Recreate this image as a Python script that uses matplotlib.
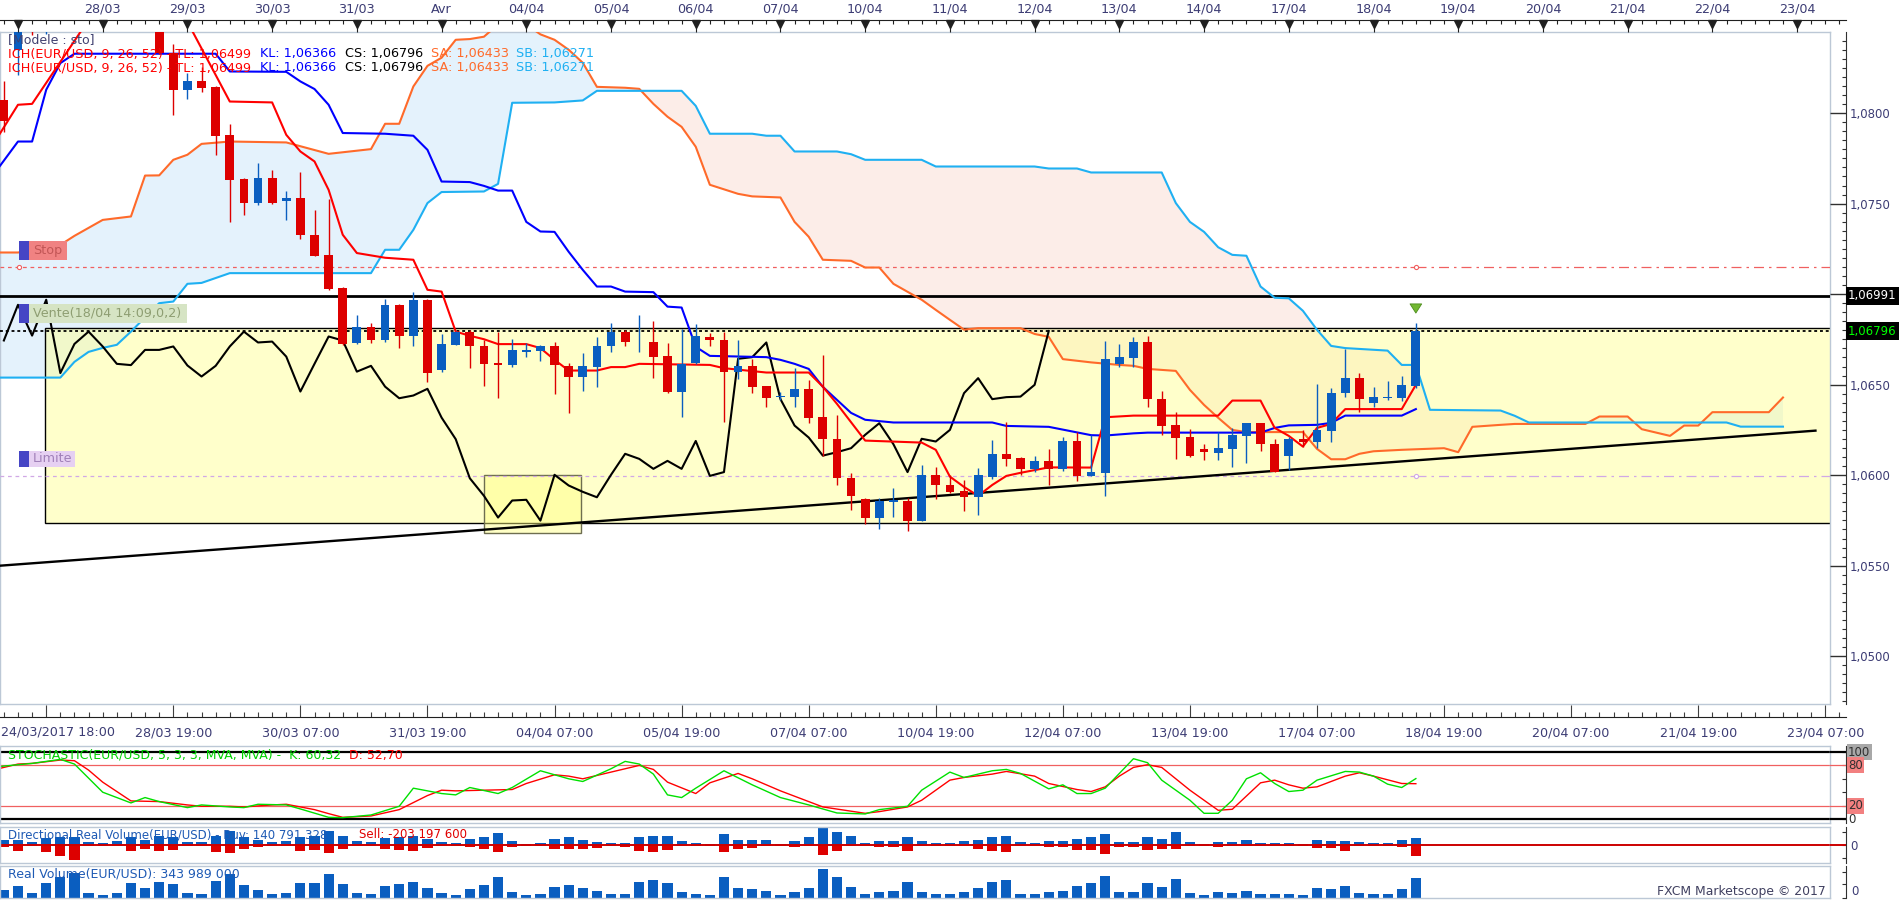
import numpy as np
import matplotlib
matplotlib.use("Agg")
import matplotlib.pyplot as plt
import matplotlib.transforms as mtransforms
from matplotlib.patches import Rectangle
from matplotlib.ticker import MultipleLocator, FuncFormatter

plt.rcParams['font.family'] = ['DejaVu Sans']

# EUR/USD 4h candles. bar 0 = first bar of 28/03 (opens 27/03 23:00), 6 bars per day
first_bar = -7
opens = [1.08070, 1.08350, 1.08700, 1.08620, 1.08760, 1.08660, 1.08750, 1.08680, 1.08610, 1.08690,
         1.08610, 1.08570, 1.08331, 1.08125, 1.08175, 1.08144, 1.07880, 1.07637, 1.07506, 1.07644,
         1.07512, 1.07530, 1.07328, 1.07217, 1.07033, 1.06729, 1.06821, 1.06748, 1.06941, 1.06771,
         1.06969, 1.06582, 1.06720, 1.06793, 1.06714, 1.06619, 1.06606, 1.06683, 1.06688, 1.06711,
         1.06604, 1.06545, 1.06600, 1.06716, 1.06793, 1.06733, 1.06738, 1.06659, 1.06462, 1.06622,
         1.06766, 1.06748, 1.06572, 1.06604, 1.06493, 1.06434, 1.06434, 1.06477, 1.06324, 1.06199,
         1.05983, 1.05867, 1.05766, 1.05851, 1.05860, 1.05749, 1.05999, 1.05946, 1.05915, 1.05878,
         1.05992, 1.06118, 1.06097, 1.06035, 1.06079, 1.06035, 1.06189, 1.05996, 1.06014, 1.06615,
         1.06650, 1.06733, 1.06422, 1.06278, 1.06213, 1.06145, 1.06122, 1.06145, 1.06219, 1.06287,
         1.06173, 1.06108, 1.06199, 1.06186, 1.06246, 1.06453, 1.06536, 1.06398, 1.06427, 1.06429,
         1.06493]
highs = [1.08175, 1.08600, 1.08740, 1.08730, 1.08790, 1.08780, 1.08800, 1.08720, 1.08710, 1.08720,
         1.08640, 1.08600, 1.08383, 1.08221, 1.08257, 1.08150, 1.07941, 1.07640, 1.07724, 1.07687,
         1.07571, 1.07674, 1.07466, 1.07527, 1.07037, 1.06882, 1.06843, 1.06974, 1.06946, 1.07014,
         1.06972, 1.06781, 1.06796, 1.06803, 1.06748, 1.06793, 1.06751, 1.06729, 1.06720, 1.06738,
         1.06619, 1.06674, 1.06762, 1.06840, 1.06803, 1.06886, 1.06853, 1.06729, 1.06807, 1.06836,
         1.06788, 1.06793, 1.06748, 1.06641, 1.06495, 1.06462, 1.06591, 1.06527, 1.06665, 1.06333,
         1.06014, 1.05873, 1.05873, 1.05928, 1.05873, 1.06057, 1.06047, 1.06002, 1.05974, 1.06039,
         1.06195, 1.06293, 1.06103, 1.06107, 1.06145, 1.06213, 1.06237, 1.06223, 1.06742, 1.06725,
         1.06766, 1.06770, 1.06466, 1.06351, 1.06256, 1.06173, 1.06237, 1.06260, 1.06290, 1.06290,
         1.06199, 1.06210, 1.06250, 1.06504, 1.06481, 1.06698, 1.06564, 1.06486, 1.06521, 1.06549,
         1.06840]
lows = [1.07898, 1.08212, 1.08430, 1.08435, 1.08620, 1.08600, 1.08630, 1.08580, 1.08570, 1.08550,
        1.08510, 1.08325, 1.07987, 1.08079, 1.08119, 1.07770, 1.07396, 1.07438, 1.07493, 1.07499,
        1.07407, 1.07306, 1.07208, 1.07024, 1.06720, 1.06725, 1.06729, 1.06733, 1.06702, 1.06714,
        1.06512, 1.06572, 1.06718, 1.06591, 1.06493, 1.06425, 1.06597, 1.06655, 1.06633, 1.06448,
        1.06346, 1.06467, 1.06486, 1.06683, 1.06716, 1.06680, 1.06539, 1.06453, 1.06324, 1.06615,
        1.06711, 1.06291, 1.06530, 1.06456, 1.06379, 1.06416, 1.06379, 1.06287, 1.06107, 1.05946,
        1.05808, 1.05729, 1.05702, 1.05771, 1.05694, 1.05745, 1.05869, 1.05901, 1.05804, 1.05781,
        1.05978, 1.06053, 1.06002, 1.06020, 1.05946, 1.06024, 1.05970, 1.05994, 1.05886, 1.06597,
        1.06597, 1.06376, 1.06223, 1.06090, 1.06099, 1.06085, 1.06085, 1.06044, 1.06070, 1.06136,
        1.06015, 1.06029, 1.06158, 1.06149, 1.06186, 1.06431, 1.06351, 1.06376, 1.06413, 1.06412,
        1.06481]
closes = [1.07959, 1.08560, 1.08650, 1.08700, 1.08680, 1.08740, 1.08670, 1.08620, 1.08680, 1.08600,
          1.08560, 1.08331, 1.08125, 1.08175, 1.08141, 1.07875, 1.07632, 1.07506, 1.07644, 1.07506,
          1.07530, 1.07324, 1.07212, 1.07029, 1.06725, 1.06821, 1.06744, 1.06941, 1.06771, 1.06969,
          1.06564, 1.06725, 1.06793, 1.06711, 1.06615, 1.06608, 1.06692, 1.06692, 1.06711, 1.06606,
          1.06545, 1.06604, 1.06711, 1.06793, 1.06733, 1.06738, 1.06655, 1.06462, 1.06615, 1.06766,
          1.06744, 1.06572, 1.06604, 1.06489, 1.06425, 1.06440, 1.06477, 1.06318, 1.06199, 1.05983,
          1.05886, 1.05766, 1.05860, 1.05864, 1.05749, 1.06002, 1.05943, 1.05908, 1.05878, 1.06002,
          1.06118, 1.06090, 1.06035, 1.06079, 1.06035, 1.06189, 1.05996, 1.06017, 1.06643, 1.06652,
          1.06733, 1.06420, 1.06274, 1.06208, 1.06108, 1.06127, 1.06149, 1.06223, 1.06287, 1.06171,
          1.06017, 1.06201, 1.06186, 1.06250, 1.06453, 1.06536, 1.06420, 1.06431, 1.06434, 1.06499,
          1.06796]

# Ichimoku lines, read as (bar, price) vertices
tenkan_bars = [-8, -6, -5, -1, 6, 9, 12, 13, 14, 15, 16, 17, 18, 20, 22, 23, 24, 25, 26, 27,
               28, 30, 31, 32, 33, 35, 36, 37, 38, 43, 44, 47, 50, 51, 52, 54, 58, 59, 60, 61,
               62, 63, 64, 65, 67, 70, 71, 73, 79, 80, 82, 83, 84, 85, 86, 87, 88, 92, 93]
tenkan = [1.07797, 1.08046, 1.08051, 1.08515, 1.08504, 1.08064, 1.08059, 1.07880, 1.07788, 1.07733,
          1.07576, 1.07328, 1.07227, 1.07201, 1.07190, 1.07024, 1.07014, 1.06793, 1.06770, 1.06751,
          1.06724, 1.06724, 1.06702, 1.06637, 1.06578, 1.06578, 1.06597, 1.06597, 1.06615, 1.06609,
          1.06591, 1.06567, 1.06567, 1.06489, 1.06394, 1.06191, 1.06180, 1.06140, 1.05992, 1.05935,
          1.05886, 1.05946, 1.05996, 1.06013, 1.06043, 1.06042, 1.06320, 1.06329, 1.06329, 1.06412,
          1.06412, 1.06261, 1.06217, 1.06158, 1.06261, 1.06283, 1.06365, 1.06365, 1.06499]
kijun_bars = [-8, -6, -5, -4, -3, -2, 8, 9, 13, 14, 15, 16, 17, 20, 22, 23, 24, 26, 27, 28,
              29, 30, 31, 32, 33, 34, 35, 36, 37, 39, 40, 41, 42, 43, 47, 48, 49, 50, 51, 52,
              53, 54, 56, 63, 64, 67, 70, 71, 72, 73, 74, 82, 83, 84, 86, 87, 88, 92, 93]
kijun = [1.07632, 1.07843, 1.07843, 1.08129, 1.08276, 1.08328, 1.08328, 1.08230, 1.08228, 1.08175,
         1.08133, 1.08046, 1.07890, 1.07886, 1.07875, 1.07797, 1.07622, 1.07619, 1.07598, 1.07572,
         1.07572, 1.07399, 1.07346, 1.07344, 1.07234, 1.07134, 1.07042, 1.07042, 1.07014, 1.07011,
         1.06931, 1.06926, 1.06709, 1.06659, 1.06652, 1.06637, 1.06615, 1.06587, 1.06488, 1.06416,
         1.06344, 1.06306, 1.06291, 1.06291, 1.06272, 1.06267, 1.06221, 1.06219, 1.06225, 1.06231,
         1.06235, 1.06235, 1.06261, 1.06275, 1.06278, 1.06289, 1.06329, 1.06329, 1.06365]
sa_bars = [-8, -6, -4, -3, -2, -1, 0, 2, 3, 4, 5, 6, 7, 9, 13, 16, 19, 20, 21, 22,
           23, 24, 25, 26, 27, 28, 29, 30, 31, 32, 33, 34, 35, 37, 38, 39, 40, 41, 42, 43,
           45, 46, 48, 49, 50, 51, 53, 54, 55, 56, 57, 58, 59, 60, 61, 62, 65, 66, 67, 68,
           70, 72, 73, 74, 76, 77, 78, 79, 80, 81, 85, 86, 87, 88, 89, 90, 92, 95, 96, 97,
           99, 100, 105, 106, 108, 109, 111, 112, 113, 114, 118, 119]
senkou_a = [1.07230, 1.07230, 1.07256, 1.07272, 1.07322, 1.07366, 1.07410, 1.07429, 1.07655, 1.07656,
            1.07742, 1.07770, 1.07830, 1.07843, 1.07838, 1.07775, 1.07801, 1.07941, 1.07941, 1.08147,
            1.08261, 1.08306, 1.08405, 1.08409, 1.08422, 1.08490, 1.08500, 1.08490, 1.08435, 1.08405,
            1.08350, 1.08278, 1.08145, 1.08140, 1.08134, 1.08051, 1.07980, 1.07924, 1.07814, 1.07604,
            1.07554, 1.07540, 1.07534, 1.07399, 1.07317, 1.07190, 1.07184, 1.07147, 1.07147, 1.07057,
            1.07013, 1.06969, 1.06913, 1.06858, 1.06804, 1.06812, 1.06812, 1.06780, 1.06764, 1.06641,
            1.06623, 1.06609, 1.06604, 1.06587, 1.06576, 1.06471, 1.06388, 1.06317, 1.06250, 1.06238,
            1.06238, 1.06145, 1.06088, 1.06088, 1.06118, 1.06132, 1.06140, 1.06149, 1.06127, 1.06267,
            1.06278, 1.06283, 1.06283, 1.06324, 1.06324, 1.06254, 1.06217, 1.06274, 1.06274, 1.06348,
            1.06348, 1.06429]
sb_bars = [-8, -3, -2, -1, 0, 1, 2, 4, 5, 6, 7, 9, 19, 20, 21, 22, 23, 24, 27, 28,
           29, 32, 34, 35, 41, 42, 43, 46, 47, 48, 49, 52, 53, 54, 58, 59, 66, 67, 69, 70,
           75, 76, 77, 78, 79, 80, 81, 82, 83, 84, 85, 86, 87, 88, 91, 92, 93, 94, 99, 100,
           101, 115, 116, 119]
senkou_b = [1.06539, 1.06539, 1.06626, 1.06681, 1.06703, 1.06720, 1.06793, 1.06950, 1.06959, 1.07057,
            1.07062, 1.07116, 1.07116, 1.07245, 1.07245, 1.07355, 1.07503, 1.07564, 1.07567, 1.07609,
            1.08057, 1.08059, 1.08070, 1.08123, 1.08123, 1.08040, 1.07886, 1.07886, 1.07875, 1.07875,
            1.07788, 1.07788, 1.07773, 1.07742, 1.07742, 1.07705, 1.07705, 1.07694, 1.07694, 1.07672,
            1.07672, 1.07503, 1.07399, 1.07344, 1.07259, 1.07217, 1.07212, 1.07042, 1.06980, 1.06977,
            1.06908, 1.06803, 1.06714, 1.06702, 1.06688, 1.06609, 1.06609, 1.06361, 1.06357, 1.06328,
            1.06291, 1.06291, 1.06268, 1.06268]
chikou_shift = 26

# order levels and drawn objects
resistance = 1.06991
last_price = 1.06796
stop_level = 1.07152
limit_level = 1.05994
zone_top, zone_bottom, zone_start = 1.06811, 1.05735, -4.07
trend_bars, trend_vals = [-7.27, 121.3], [1.05500, 1.06246]
focus_bars, focus_vals = [27.0, 33.9], [1.05680, 1.06002]

# stochastic (5,3,3)
k_bars = [-8, -7, -5, -3, -2, 0, 2, 3, 4, 6, 7, 9, 10, 11, 13, 14, 16, 17, 19, 21,
          22, 24, 25, 26, 28, 29, 31, 33, 34, 36, 37, 38, 39, 40, 41, 42, 44, 46, 48, 50,
          52, 54, 55, 57, 58, 60, 61, 63, 64, 65, 67, 68, 69, 70, 71, 73, 74, 75, 77, 78,
          79, 80, 81, 82, 83, 84, 85, 86, 88, 89, 90, 91, 92, 93]
stoch_k = [76, 79, 83, 89, 82, 40, 24, 32, 26, 17, 21, 18, 17, 22, 21, 15, 2.5, 2, 6, 19,
           46, 38, 36, 47, 38, 47, 72, 60, 56, 75, 86, 82, 67, 36, 32, 46, 72, 51, 32, 21,
           9, 7.5, 14, 19, 43, 70, 62, 72, 74, 68, 45, 51, 38, 38, 46, 90, 84, 58, 28, 8.5,
           8.5, 28, 60, 69, 53, 41, 43, 58, 71, 70, 64, 52, 47, 60.32]
d_bars = [-8, -7, -6, -5, -3, -2, -1, 0, 2, 4, 6, 7, 9, 10, 12, 13, 15, 16, 17, 19,
          21, 23, 24, 25, 27, 29, 30, 32, 33, 34, 36, 38, 39, 40, 42, 43, 45, 46, 48, 51,
          54, 55, 57, 58, 60, 61, 63, 64, 66, 67, 69, 70, 71, 72, 73, 74, 75, 77, 79, 80,
          82, 83, 84, 85, 86, 88, 89, 90, 92, 93]
stoch_d = [72, 77, 82, 83, 88, 87, 73, 55, 27, 26, 21, 19, 19, 18, 21, 22, 14, 8, 2.5, 4.5,
           14, 35, 43, 42, 43, 44, 53, 66, 64, 60, 70, 80, 74, 55, 38, 54, 68, 60, 42, 18,
           8.5, 11, 18, 28, 58, 62, 67, 71, 64, 53, 44, 41, 48, 64, 77, 81, 77, 43, 13, 14.5,
           54, 58, 51, 46, 48, 64, 69, 64, 53, 52.70]

# directional real volume, millions (bars -7 .. 93)
buy_vol = [95, 95, 59, 130, 150, 150, 59, 46, 72, 150,
           98, 169, 150, 59, 59, 169, 267, 150, 98, 59,
           72, 150, 169, 267, 169, 72, 59, 130, 150, 169,
           111, 59, 46, 111, 150, 228, 72, 26, 39, 124,
           150, 104, 59, 39, 39, 150, 169, 169, 72, 39,
           26, 221, 104, 104, 104, 26, 72, 150, 319, 247,
           169, 39, 72, 85, 156, 72, 39, 46, 72, 104,
           150, 169, 52, 39, 72, 85, 124, 150, 221, 59,
           59, 150, 124, 241, 59, 26, 59, 59, 104, 39,
           39, 39, 26, 104, 85, 85, 59, 39, 39, 104,
           140.79]
sell_vol = [39, 117, 20, 137, 215, 293, 20, 13, 13, 117,
            78, 117, 98, 20, 13, 137, 156, 78, 39, 13,
            13, 117, 98, 156, 78, 20, 13, 78, 98, 117,
            59, 20, 13, 39, 78, 137, 39, 26, 26, 72,
            78, 78, 59, 26, 39, 124, 143, 91, 26, 26,
            26, 143, 78, 59, 26, 26, 39, 26, 189, 124,
            26, 26, 39, 39, 124, 26, 26, 26, 26, 72,
            124, 143, 26, 26, 39, 39, 91, 104, 169, 46,
            39, 104, 72, 85, 26, 26, 39, 26, 26, 26,
            26, 26, 26, 65, 65, 124, 26, 26, 26, 46,
            203.20]

day_bars = list(range(-6, 121, 6))
day_labels = ['', '28/03', '29/03', '30/03', '31/03', 'Avr', '04/04', '05/04', '06/04', '07/04',
              '10/04', '11/04', '12/04', '13/04', '14/04', '17/04', '18/04', '19/04', '20/04',
              '21/04', '22/04', '23/04']
time_bars = list(range(-4, 123, 9))
time_labels = ['', '28/03 19:00', '30/03 07:00', '31/03 19:00', '04/04 07:00', '05/04 19:00',
               '07/04 07:00', '10/04 19:00', '12/04 07:00', '13/04 19:00', '17/04 07:00',
               '18/04 19:00', '20/04 07:00', '21/04 19:00', '23/04 07:00']

# ---- styles ----
RED = '#DD0000'
BLUE = '#0A5EC0'
FRAME = '#BCC8D6'
AXTXT = '#3C3C74'
W, H = 1903, 900
X0, DX = 102.7, 14.12          # pixel of bar 0, pixels per bar

fig = plt.figure(figsize=(W / 100, H / 100), dpi=100)


def frame(x0, y0, x1, y1):
    return [x0 / W, 1 - y1 / H, (x1 - x0) / W, (y1 - y0) / H]


def bar_range(x0, x1):
    return ((x0 - X0) / DX, (x1 - X0) / DX)


def panel(y0, y1, ylim):
    a = fig.add_axes(frame(0, y0, 1830, y1))
    a.set_xlim(*bar_range(0, 1830))
    a.set_ylim(*ylim)
    for s in a.spines.values():
        s.set_color(FRAME)
        s.set_linewidth(1)
    a.set_xticks([])
    a.set_yticks([])
    return a


def side(y0, y1, ylim):
    a = fig.add_axes(frame(1830, y0, 1846, y1))
    a.set_xlim(0, 1)
    a.set_ylim(*ylim)
    a.patch.set_visible(False)
    for s in ('left', 'top', 'bottom'):
        a.spines[s].set_visible(False)
    a.spines['right'].set_color('#303030')
    a.set_xticks([])
    a.yaxis.tick_right()
    a.tick_params(axis='y', which='both', direction='in', color='#303030',
                  labelcolor=AXTXT, labelsize=8.5, pad=3)
    return a


bars = np.arange(first_bar, first_bar + len(closes))
o, hi, lo, c = (np.array(v) for v in (opens, highs, lows, closes))

# ---- main chart ----
ylim_main = (1.04736, 1.08448)
ax = panel(32, 704, ylim_main)

sa_b, sb_b = np.array(sa_bars, float), np.array(sb_bars, float)
grid = np.union1d(sa_b, sb_b)
sa_g = np.interp(grid, sa_b, senkou_a)
sb_g = np.interp(grid, sb_b, senkou_b)
ax.fill_between(grid, sa_g, sb_g, where=sa_g >= sb_g, interpolate=True, color='#E4F2FC', lw=0, zorder=1)
ax.fill_between(grid, sa_g, sb_g, where=sa_g < sb_g, interpolate=True, color='#FCEDE8', lw=0, zorder=1)

ax.add_patch(Rectangle((zone_start, zone_bottom), 140, zone_top - zone_bottom,
                       fc=(1, 1, 0.6, 0.5), ec='black', lw=1.0, zorder=2))
ax.add_patch(Rectangle((focus_bars[0], focus_vals[0]), focus_bars[1] - focus_bars[0],
                       focus_vals[1] - focus_vals[0], fc=(1, 1, 0.5, 0.45), ec='#6E6E50', lw=1.0, zorder=2.5))

ax.axhline(resistance, color='black', lw=2.0, zorder=3)
ax.axhline(last_price, color='black', lw=1.3, ls=(0, (1.6, 1.6)), zorder=3)
xl = ax.get_xlim()
ax.plot([xl[0], 93], [stop_level] * 2, color='#F06060', lw=0.9, ls=(0, (3, 3)), zorder=3)
ax.plot([93, xl[1]], [stop_level] * 2, color='#F06060', lw=0.9, ls=(0, (8, 4, 2, 4)), zorder=3)
ax.plot([xl[0], 93], [limit_level] * 2, color='#D0A8E6', lw=0.9, ls=(0, (3, 3)), zorder=3)
ax.plot([93, xl[1]], [limit_level] * 2, color='#D0A8E6', lw=0.9, ls=(0, (8, 4, 2, 4)), zorder=3)
ax.plot([-5.93, 93], [stop_level] * 2, 'o', ms=3, mfc='white', mec='#F06060', mew=0.8, zorder=3)
ax.plot([93], [limit_level], 'o', ms=3, mfc='white', mec='#D0A8E6', mew=0.8, zorder=3)
ax.plot(trend_bars, trend_vals, color='black', lw=1.7, zorder=3)

ax.plot(sa_bars, senkou_a, color='#FF6A2A', lw=1.5, zorder=3.5)
ax.plot(sb_bars, senkou_b, color='#1FB0F2', lw=1.5, zorder=3.5)
ax.plot(bars[chikou_shift:] - chikou_shift, c[chikou_shift:], color='black', lw=1.5, zorder=3.5)
ax.plot(kijun_bars, kijun, color='#0000FF', lw=1.5, zorder=3.6)
ax.plot(tenkan_bars, tenkan, color='#FF0000', lw=1.5, zorder=3.7)

up = c >= o
cols = np.where(up, BLUE, RED)
ax.vlines(bars, lo, hi, colors=cols, lw=1.0, zorder=4)
ax.bar(bars, np.maximum(np.abs(c - o), 0.00003), bottom=np.minimum(o, c), width=0.62,
       color=cols, lw=0, zorder=5)

ax.annotate('', xy=(bars[-1], hi[-1] + 0.0004), xytext=(bars[-1], hi[-1] + 0.0012),
            arrowprops=dict(arrowstyle='simple,head_length=0.55,head_width=0.7,tail_width=0.35',
                            fc='#72B832', ec='#4C8C1C', lw=0.6, mutation_scale=12), zorder=8)

# price axis (the 1,0700 label sits under the resistance tag)
axr = side(32, 704, ylim_main)
axr.yaxis.set_major_locator(MultipleLocator(0.005))
axr.yaxis.set_minor_locator(MultipleLocator(0.0005))
axr.yaxis.set_major_formatter(FuncFormatter(
    lambda v, _: '' if abs(v - resistance) < 0.0004 else f"{v:.4f}".replace('.', ',')))
axr.tick_params(axis='y', which='major', length=11.5, width=1)
axr.tick_params(axis='y', which='minor', length=3, width=0.8)
tr = mtransforms.blended_transform_factory(axr.transAxes, axr.transData)
axr.text(1.12, resistance, f"{resistance:.5f}".replace('.', ','), transform=tr, color='white',
         fontsize=8.5, va='center', ha='left', clip_on=False, zorder=10,
         bbox=dict(boxstyle='square,pad=0.2', fc='black', ec='none'))
axr.text(1.12, last_price, f"{last_price:.5f}".replace('.', ','), transform=tr, color='#00FF00',
         fontsize=8.5, va='center', ha='left', clip_on=False, zorder=10,
         bbox=dict(boxstyle='square,pad=0.2', fc='black', ec='none'))

# top date strip
axt = fig.add_axes(frame(0, 20, 1846, 32))
axt.set_xlim(*bar_range(0, 1846))
axt.set_ylim(0, 1)
axt.patch.set_visible(False)
for s in ('left', 'right', 'bottom'):
    axt.spines[s].set_visible(False)
axt.spines['top'].set_color('#202020')
axt.xaxis.tick_top()
axt.set_xticks(day_bars)
axt.set_xticklabels(day_labels)
axt.set_xticks(np.arange(-7, 124), minor=True)
axt.tick_params(axis='x', which='major', direction='in', length=8.6, width=0.8, color='#202020',
                labelsize=9.2, labelcolor=AXTXT, pad=3)
axt.tick_params(axis='x', which='minor', direction='in', length=3, width=0.8, color='#202020')
axt.set_yticks([])
axt.plot(day_bars, [0.7] * len(day_bars), 'v', ms=6, color='#202020', clip_on=False)

# bottom time strip
axb = fig.add_axes(frame(0, 704, 1846, 717))
axb.set_xlim(*bar_range(0, 1846))
axb.set_ylim(0, 1)
axb.patch.set_visible(False)
for s in ('left', 'right', 'top'):
    axb.spines[s].set_visible(False)
axb.spines['bottom'].set_color('#202020')
axb.set_xticks(time_bars)
axb.set_xticklabels(time_labels)
axb.set_xticks(np.arange(-7, 124), minor=True)
axb.tick_params(axis='x', which='major', direction='in', length=8.6, width=0.8, color='#404040',
                labelsize=9.2, labelcolor=AXTXT, pad=6.5)
axb.tick_params(axis='x', which='minor', direction='in', length=3.5, width=0.8, color='#404040')
axb.set_yticks([])
fig.text(1 / W, 1 - 732 / H, '24/03/2017 18:00', fontsize=9.2, color=AXTXT, va='center', ha='left')

# ---- stochastic ----
ylim_st = (-5.97, 108.96)
axs = panel(746, 823, ylim_st)
axs_r = side(746, 823, ylim_st)
for a in (axs, axs_r):
    a.axhline(100, color='black', lw=1.6)
    a.axhline(0, color='black', lw=1.6)
    a.axhline(80, color='#F06060', lw=0.9)
    a.axhline(20, color='#F06060', lw=0.9)
axs.plot(d_bars, stoch_d, color='#FF0000', lw=1.0)
axs.plot(k_bars, stoch_k, color='#00E000', lw=1.0)
axs_r.set_yticks([0, 20, 40, 60, 80, 100])
axs_r.set_yticklabels([])
axs_r.tick_params(axis='y', length=3)
trs = mtransforms.blended_transform_factory(axs_r.transAxes, axs_r.transData)
for lvl, fc in ((100, '#A8A8A8'), (80, '#F28080'), (20, '#F28080'), (0, 'none')):
    axs_r.text(1.12, lvl, str(lvl), transform=trs, fontsize=8.5, color='#303030', va='center',
               ha='left', clip_on=False, bbox=dict(boxstyle='square,pad=0.12', fc=fc, ec='none'))

# ---- directional real volume ----
ylim_dv = (-347, 347)
axd = panel(827, 863, ylim_dv)
axd_r = side(827, 863, ylim_dv)
axd.bar(bars, buy_vol, width=0.72, color=BLUE, lw=0)
axd.bar(bars, -np.array(sell_vol), width=0.72, color=RED, lw=0)
for a in (axd, axd_r):
    a.axhline(0, color='#CC0000', lw=1.4)
axd_r.set_yticks([-250, 0, 250])
axd_r.set_yticklabels(['', '0', ''])
axd_r.tick_params(axis='y', length=3)

# ---- real volume ----
ylim_rv = (0, 560)
axv = panel(866, 898, ylim_rv)
axv_r = side(866, 898, ylim_rv)
axv.bar(bars, np.array(buy_vol) + np.array(sell_vol), width=0.72, color=BLUE, lw=0)
axv_r.set_yticks([0, 250, 450])
axv_r.set_yticklabels([])
axv_r.tick_params(axis='y', length=3)
trv = mtransforms.blended_transform_factory(axv_r.transAxes, axv_r.transData)
axv_r.text(1.3, 0, '0', transform=trv, fontsize=8.5, color=AXTXT, va='bottom', ha='left',
           clip_on=False)

# ---- texts ----
def ftext(x, y, s, color, size=9.0, **kw):
    fig.text(x / W, 1 - y / H, s, color=color, fontsize=size, va='center', ha='left', zorder=9, **kw)


ftext(8, 40, '[Modele : sto]', '#404070', 9.0)
for yy in (54, 68):
    ftext(8, yy, 'ICH(EUR/USD, 9, 26, 52) - TL: 1,06499', '#FF0000', 9.2)
    ftext(260, yy, 'KL: 1,06366', '#0000FF', 9.2)
    ftext(345, yy, 'CS: 1,06796', '#000000', 9.2)
    ftext(431, yy, 'SA: 1,06433', '#FF6A2A', 9.2)
    ftext(516, yy, 'SB: 1,06271', '#1FB0F2', 9.2)

ftext(8, 755, 'STOCHASTIC(EUR/USD, 5, 3, 3, MVA, MVA) -  K: 60,32', '#00D000', 9.0)
ftext(349, 755, 'D: 52,70', '#FF0000', 9.0)
ftext(8, 835, 'Directional Real Volume(EUR/USD) - Buy: 140 791 328', '#1E5AB4', 8.5)
ftext(359, 835, 'Sell: -203 197 600', '#E00000', 8.5)
ftext(8, 874, 'Real Volume(EUR/USD): 343 989 000', '#1E5AB4', 9.0)
fig.text(1826 / W, 1 - 891 / H, 'FXCM Marketscope \u00a9 2017', color='#404060', fontsize=8.9,
         va='center', ha='right', zorder=9)


def tag(y_top, y_bot, x_end, text, face, tcol):
    fig.add_artist(Rectangle((19 / W, 1 - y_bot / H), 10 / W, (y_bot - y_top) / H,
                             transform=fig.transFigure, fc='#4545C5', ec='none', zorder=8))
    fig.add_artist(Rectangle((29 / W, 1 - y_bot / H), (x_end - 29) / W, (y_bot - y_top) / H,
                             transform=fig.transFigure, fc=face, ec='none', zorder=8))
    ftext(33, (y_top + y_bot) / 2, text, tcol, 9.2)


tag(241, 260, 67, 'Stop', '#F08282', '#C25656')
tag(304, 323, 187, 'Vente(18/04 14:09,0,2)', '#D6E4C4', '#8E9E72')
tag(451, 467, 75, 'Limite', '#E6D0F2', '#A080B8')

fig.savefig('out.png', dpi=100)
